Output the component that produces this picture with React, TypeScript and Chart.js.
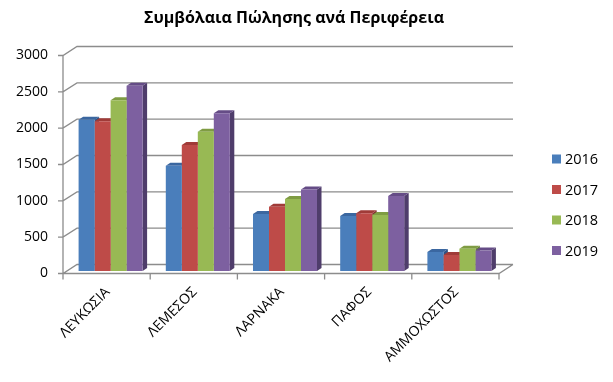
import React, { useEffect, useRef } from "react";
import { Chart, registerables } from "chart.js";

Chart.register(...registerables);

const TITLE = "Συμβόλαια Πώλησης ανά Περιφέρεια";
const CATEGORIES = ["ΛΕΥΚΩΣΙΑ", "ΛΕΜΕΣΟΣ", "ΛΑΡΝΑΚΑ", "ΠΑΦΟΣ", "ΑΜΜΟΧΩΣΤΟΣ"];
const SERIES_NAMES = ["2016", "2017", "2018", "2019"];
const V2016 = [2080, 1450, 785, 757, 262];
const V2017 = [2060, 1735, 885, 795, 220];
const V2018 = [2350, 1915, 990, 770, 307];
const V2019 = [2550, 2170, 1120, 1032, 282];
const Y_TICKS = [0, 500, 1000, 1500, 2000, 2500, 3000];

const FRONT = ["#4A7EBB", "#BE4B48", "#98B954", "#7D60A0"];
const TOPC = ["#3B67A0", "#A03B38", "#7F9C43", "#654C86"];
const SIDE = ["#2F5487", "#843230", "#68813A", "#4F3D6B"];
const GRID = "#8C8C8C";

// perspective offsets relative to the bar plane
const FX = -4, FY = 2.5, BX = 10, BY = -6.5;
const DDX = 4.5, DDY = 3;

const threeD = {
  id: "threeD",
  beforeDatasetsDraw(chart: any) {
    const { ctx, chartArea, scales } = chart;
    const xs = scales.x, ys = scales.y;
    const L = chartArea.left, R = chartArea.right;
    ctx.save();
    ctx.strokeStyle = GRID;
    ctx.lineWidth = 1.3;
    ctx.beginPath();
    Y_TICKS.forEach((v) => {
      const p = ys.getPixelForValue(v);
      ctx.moveTo(L + FX - 5, p + FY);
      ctx.lineTo(L + FX, p + FY);
      ctx.lineTo(L + BX, p + BY);
      ctx.lineTo(R + BX, p + BY);
    });
    const p0 = ys.getPixelForValue(0);
    const pTop = ys.getPixelForValue(Y_TICKS[Y_TICKS.length - 1]);
    ctx.moveTo(L + FX, pTop + FY);
    ctx.lineTo(L + FX, p0 + FY);
    ctx.lineTo(R + FX, p0 + FY);
    ctx.lineTo(R + BX, p0 + BY);
    const n = CATEGORIES.length;
    const cw = (R - L) / n;
    for (let i = 0; i <= n; i++) {
      const bx = (i < n ? xs.getPixelForValue(i) - cw / 2 : xs.getPixelForValue(n - 1) + cw / 2) + FX;
      ctx.moveTo(bx, p0 + FY);
      ctx.lineTo(bx, p0 + FY + 6);
    }
    ctx.stroke();

    const metas = chart.data.datasets.map((_: any, d: number) => chart.getDatasetMeta(d));
    for (let i = 0; i < n; i++) {
      metas.forEach((meta: any, d: number) => {
        const el = meta.data[i];
        if (!el) return;
        const { x, y, base, width } = el.getProps(["x", "y", "base", "width"], true);
        const l = x - width / 2, r = x + width / 2;
        ctx.fillStyle = SIDE[d];
        ctx.beginPath();
        ctx.moveTo(r, y);
        ctx.lineTo(r + DDX, y - DDY);
        ctx.lineTo(r + DDX, base - DDY);
        ctx.lineTo(r, base);
        ctx.closePath();
        ctx.fill();
        ctx.fillStyle = TOPC[d];
        ctx.beginPath();
        ctx.moveTo(l, y);
        ctx.lineTo(l + DDX, y - DDY);
        ctx.lineTo(r + DDX, y - DDY);
        ctx.lineTo(r, y);
        ctx.closePath();
        ctx.fill();
      });
    }
    ctx.restore();
  },
  afterDraw(chart: any) {
    const { ctx } = chart;
    ctx.save();
    ctx.fillStyle = "#000";
    ctx.font = "bold 16px 'Open Sans'";
    ctx.textAlign = "center";
    ctx.textBaseline = "alphabetic";
    ctx.fillText(TITLE, 294, 23);
    ctx.font = "14.5px 'Open Sans'";
    ctx.textAlign = "left";
    ctx.textBaseline = "middle";
    chart.data.datasets.forEach((ds: any, d: number) => {
      const cy = 159 + d * 30.5;
      ctx.fillStyle = ds.backgroundColor;
      ctx.fillRect(552, cy - 4.5, 9, 9);
      ctx.fillStyle = "#000";
      ctx.fillText(ds.label, 565, cy + 1);
    });
    ctx.restore();
  },
};

export default function App() {
  const ref = useRef<HTMLCanvasElement | null>(null);
  useEffect(() => {
    if (!ref.current) return;
    const values = [V2016, V2017, V2018, V2019];
    const chart = new Chart(ref.current, {
      type: "bar",
      data: {
        labels: CATEGORIES,
        datasets: SERIES_NAMES.map((name, d) => ({
          label: name,
          data: values[d],
          backgroundColor: FRONT[d],
          borderWidth: 0,
          categoryPercentage: 0.734,
          barPercentage: 1,
        })),
      },
      options: {
        responsive: false,
        animation: false,
        layout: { padding: { left: 0, right: 110, top: 53, bottom: 0 } },
        plugins: {
          legend: { display: false },
          title: { display: false },
          tooltip: { enabled: false },
        },
        scales: {
          x: {
            offset: true,
            grid: { display: false, drawTicks: false },
            border: { display: false },
            ticks: {
              minRotation: 45,
              maxRotation: 45,
              autoSkip: false,
              labelOffset: -3,
              padding: 13,
              color: "#000",
              font: { family: "'Open Sans'", size: 14 },
            },
            afterFit(s: any) {
              s.height = 111;
            },
          },
          y: {
            min: 0,
            max: 3000,
            grid: { display: false, drawTicks: false },
            border: { display: false },
            ticks: {
              stepSize: 500,
              padding: 19,
              labelOffset: 2.5,
              color: "#000",
              font: { family: "'Open Sans'", size: 14 },
              callback: (v: any) => String(v),
            },
            afterFit(s: any) {
              s.width = 67;
            },
          },
        },
      },
      plugins: [threeD],
    });
    return () => chart.destroy();
  }, []);
  return (
    <div style={{ position: "absolute", left: 0, top: 0, width: 613, height: 382, background: "#fff" }}>
      <canvas ref={ref} width={613} height={382} style={{ display: "block" }} />
    </div>
  );
}
